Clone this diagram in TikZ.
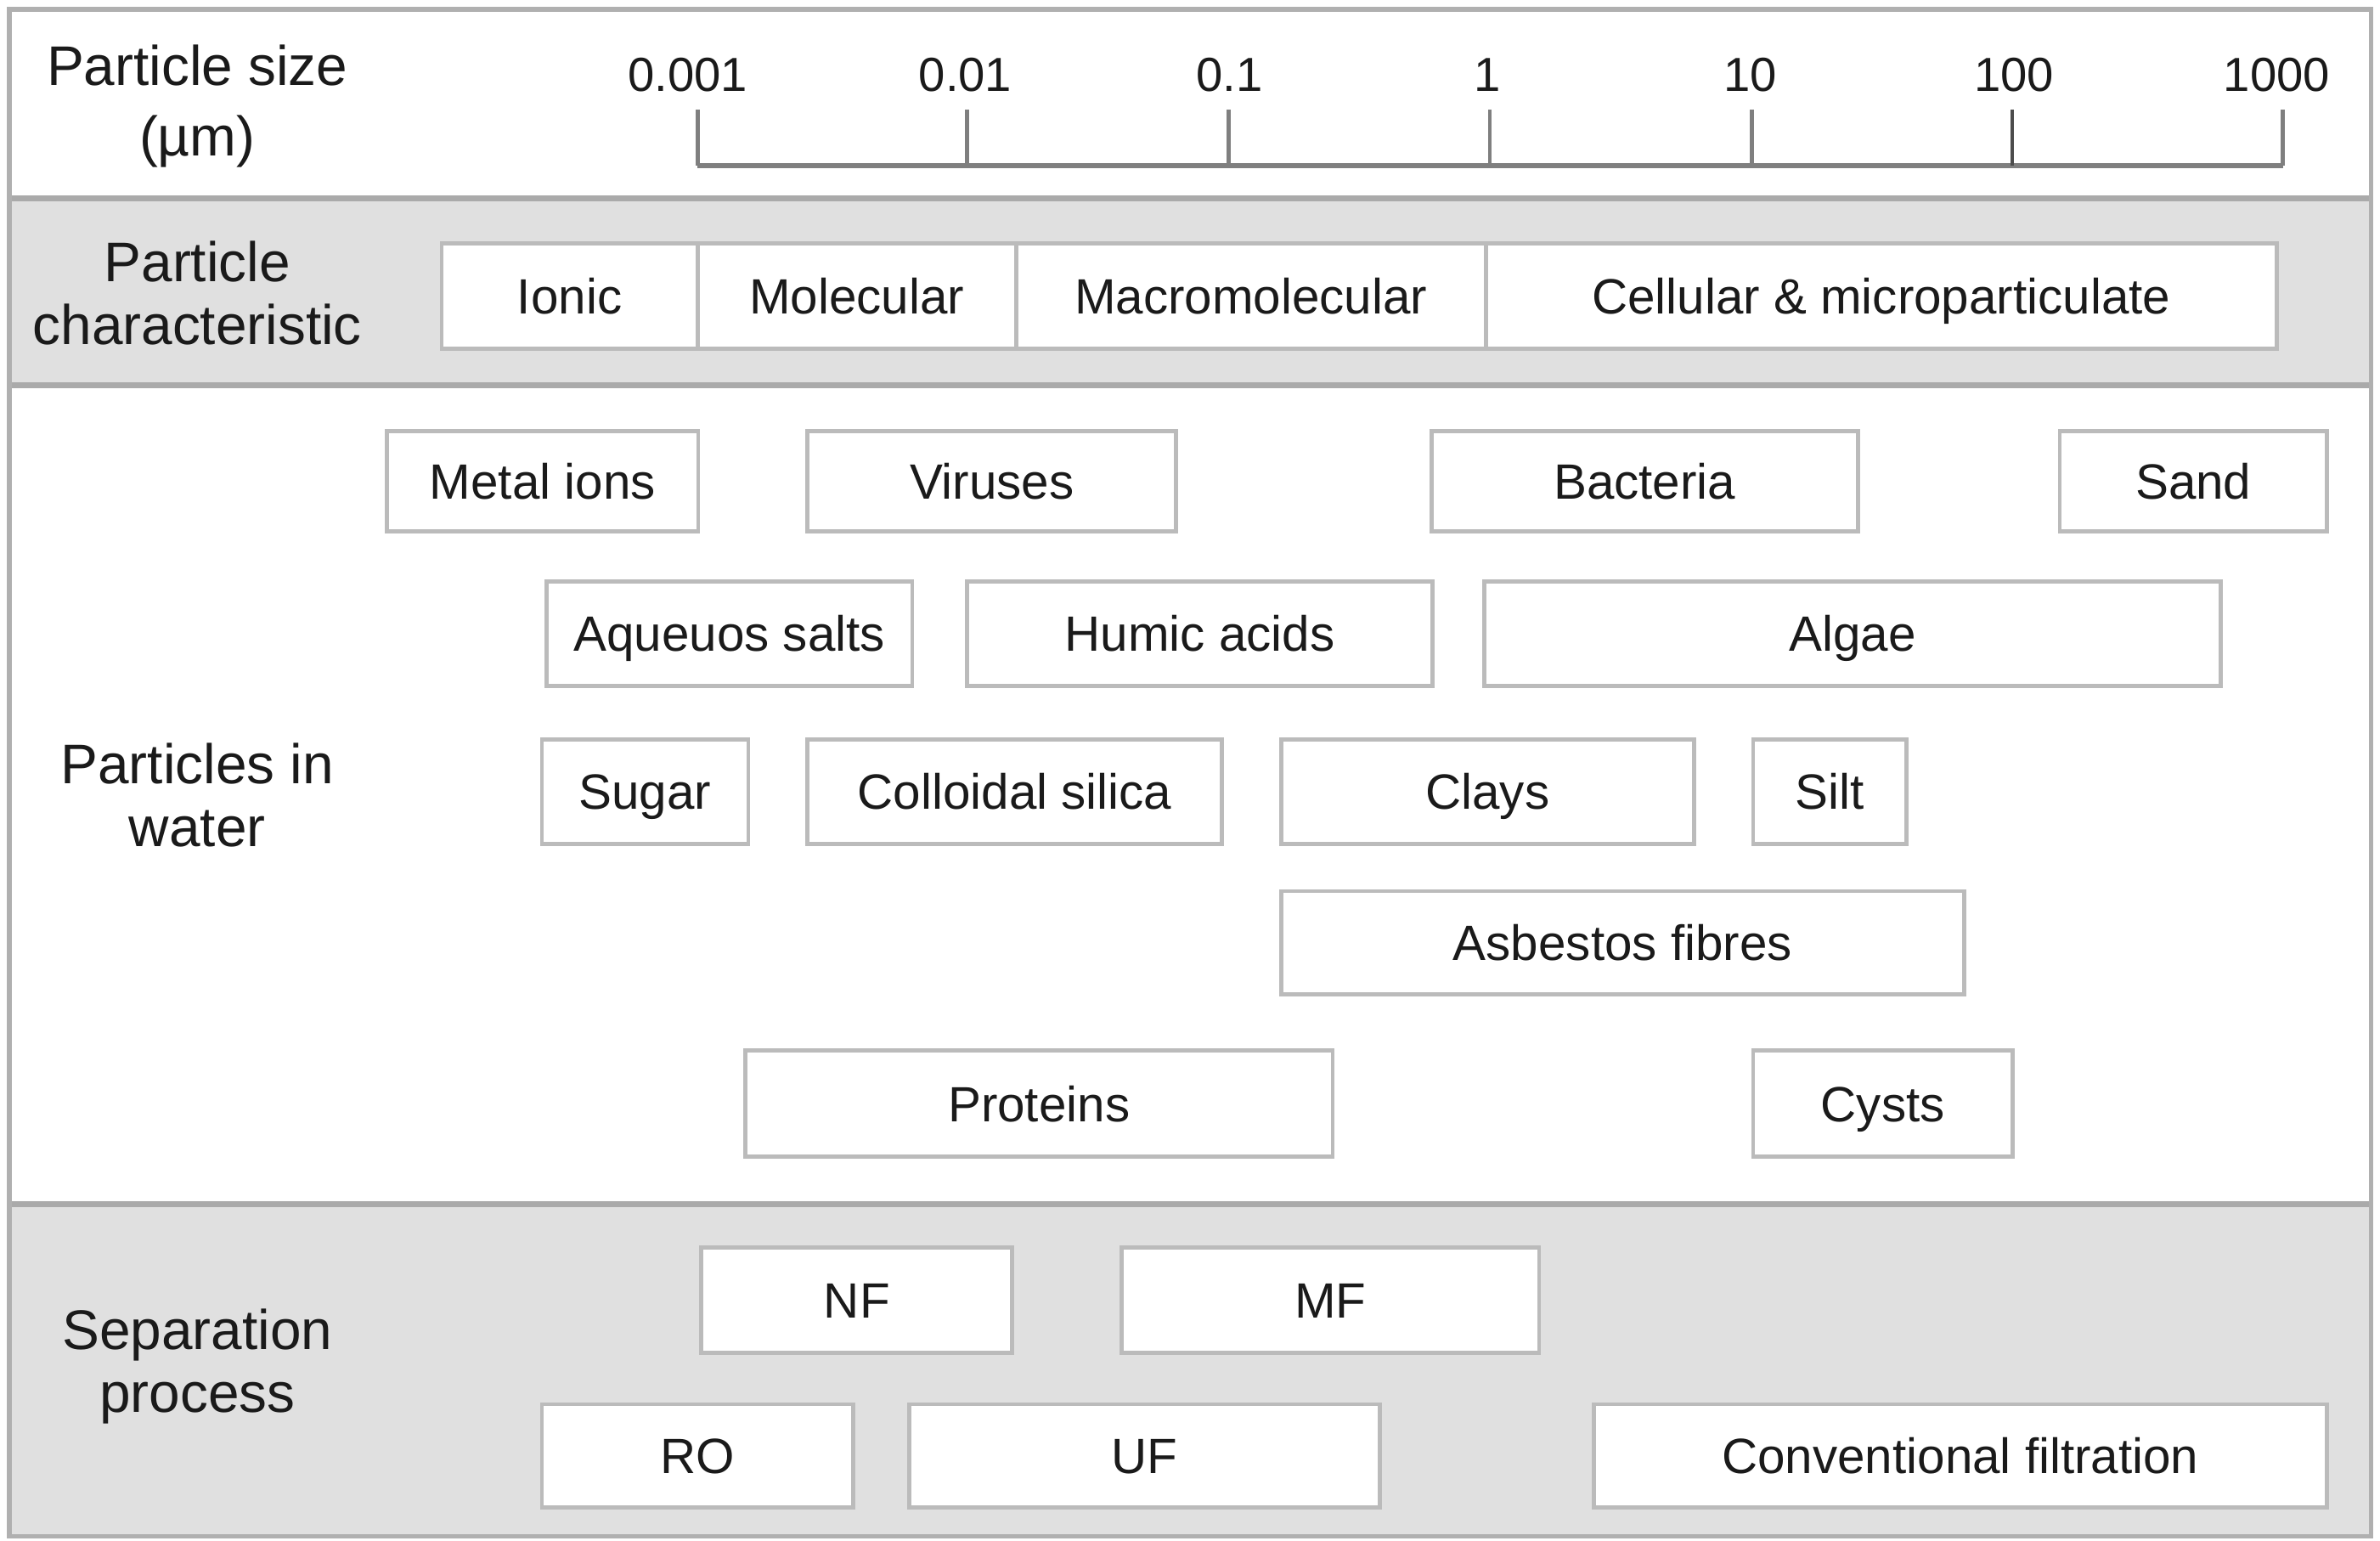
\documentclass[tikz,border=0pt]{standalone}
\usepackage{fontspec}
\setmainfont{Liberation Sans}
\definecolor{bandgray}{HTML}{E0E0E0}
\definecolor{boxline}{HTML}{BBBBBB}
\definecolor{frameline}{HTML}{B0B0B0}
\definecolor{sepline}{HTML}{AAAAAA}
\definecolor{axisgray}{HTML}{7F7F7F}
\definecolor{txt}{HTML}{1A1A1A}
\newcommand{\pbx}[6]{%
  \node[pbox, minimum width={(#4-#2)*0.01787cm}, minimum height={(#5-#3)*0.01787cm}]
    (#1) at ({(#2+#4)/2},{(#3+#5)/2}) {#6};}
\tikzset{
  pbox/.style={draw=boxline, line width=1.4pt, fill=white, rectangle, inner sep=0pt, outer sep=0pt,
    text=txt, font=\fontsize{16.6}{19}\selectfont, text height=11.9pt, text depth=0pt, anchor=center},
  rowlabel/.style={align=center, text=txt, font=\fontsize{18.7}{21}\selectfont, inner sep=0pt},
  scalelabel/.style={text=txt, font=\fontsize{16}{19}\selectfont, anchor=base, inner sep=0pt},
  tickline/.style={draw=axisgray, line width=1.3pt},
}
\begin{document}
\begin{tikzpicture}[x=0.01787cm, y=-0.01787cm]
\useasboundingbox (0,0) rectangle (1568,1015);
% bands
\fill[white] (6,6) rectangle (1562,1012);
\fill[bandgray] (6,130.5) rectangle (1562,253.6);
\fill[bandgray] (6,793) rectangle (1562,1012);
\draw[sepline, line width=2pt] (6,130.5) -- (1562,130.5);
\draw[sepline, line width=2pt] (6,253.6) -- (1562,253.6);
\draw[sepline, line width=2pt] (6,793) -- (1562,793);
\draw[frameline, line width=1.6pt] (6,6) rectangle (1562,1012);
% row labels
\node[rowlabel, font=\fontsize{18.7}{23.5}\selectfont] (lsize) at (130,70) {Particle size\\(µm)};
\node[rowlabel] (lchar) at (130,193) {Particle\\characteristic};
\node[rowlabel] (lwater) at (130,524) {Particles in\\water};
\node[rowlabel] (lsep) at (130,900) {Separation\\process};
% axis
\coordinate (t0) at (459.6,109);
\coordinate (t1) at (637,109);
\coordinate (t2) at (809.5,109);
\coordinate (t3) at (981.6,109);
\coordinate (t4) at (1154,109);
\coordinate (t5) at (1325.6,109);
\coordinate (t6) at (1504,109);
\draw[axisgray, line width=1.8pt] (t0) -- (t6);
\foreach \i in {0,...,6} {\draw[tickline] (t\i) -- ++(0,-37);}
\draw[tickline, draw=black!70] (t5) -- ++(0,-37);
\node[scalelabel] (s0) at (453,60) {0.001};
\node[scalelabel] (s1) at (636,60) {0.01};
\node[scalelabel] (s2) at (810,60) {0.1};
\node[scalelabel] (s3) at (980,60) {1};
\node[scalelabel] (s4) at (1153,60) {10};
\node[scalelabel] (s5) at (1327,60) {100};
\node[scalelabel] (s6) at (1500,60) {1000};
% particle characteristic
\pbx{ionic}{291}{160.5}{459.5}{229.5}{Ionic}
\pbx{molec}{459.5}{160.5}{669.5}{229.5}{Molecular}
\pbx{macro}{669.5}{160.5}{978.8}{229.5}{Macromolecular}
\pbx{cell}{978.8}{160.5}{1500}{229.5}{Cellular \& microparticulate}
% particles in water
\pbx{metal}{255}{284}{460}{350}{Metal ions}
\pbx{virus}{532}{284}{775}{350}{Viruses}
\pbx{bact}{943}{284}{1224}{350}{Bacteria}
\pbx{sand}{1357}{284}{1533}{350}{Sand}
\pbx{salts}{360}{383}{601}{452}{Aqueuos salts}
\pbx{humic}{637}{383}{944}{452}{Humic acids}
\pbx{algae}{978}{383}{1463}{452}{Algae}
\pbx{sugar}{357}{487}{493}{556}{Sugar}
\pbx{silica}{532}{487}{805}{556}{Colloidal silica}
\pbx{clays}{844}{487}{1116}{556}{Clays}
\pbx{silt}{1155}{487}{1256}{556}{Silt}
\pbx{asb}{844}{587}{1294}{655}{Asbestos fibres}
\pbx{prot}{491}{692}{878}{762}{Proteins}
\pbx{cysts}{1155}{692}{1326}{762}{Cysts}
% separation process
\pbx{nf}{462}{822}{667}{891}{NF}
\pbx{mf}{739}{822}{1014}{891}{MF}
\pbx{ro}{357}{925}{562}{993}{RO}
\pbx{uf}{599}{925}{909}{993}{UF}
\pbx{conv}{1050}{925}{1533}{993}{Conventional filtration}
\end{tikzpicture}
\end{document}
